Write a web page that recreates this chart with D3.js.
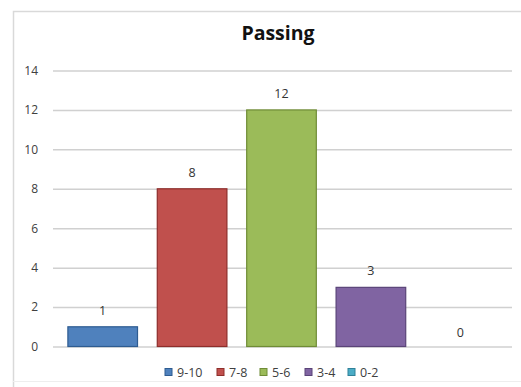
<!DOCTYPE html>
<html><head><meta charset="utf-8">
<script src="https://cdn.jsdelivr.net/npm/d3@7"></script>
<style>body{margin:0;background:#fff;}svg{display:block;font-family:"Open Sans",Lato,sans-serif;}</style>
</head><body>
<svg id="c" width="521" height="387"></svg>
<script>
const categories = ["9-10","7-8","5-6","3-4","0-2"];
const values = [1,8,12,3,0];
const colors = ["#4F81BD","#C0504D","#9BBB59","#8064A2","#4BACC6"];
const strokes = ["#2E5C91","#8E2E2B","#6F8C36","#5A4478","#2F8199"];
const yTicks = [0,2,4,6,8,10,12,14];
const title = "Passing";

const svg = d3.select("#c");
// chart border
svg.append("path").attr("d","M13.5,387 V11.5 H521").attr("fill","none").attr("stroke","#d9d9d9").attr("stroke-width",1.5);
svg.append("line").attr("x1",13).attr("x2",521).attr("y1",381.5).attr("y2",381.5).attr("stroke","#eeeeee");

const x = d3.scaleBand().domain(categories).range([58,505]).paddingInner(0.21).paddingOuter(0.105);
const y = d3.scaleLinear().domain([0,14]).range([346.5,70.5]);

const yAxis = d3.axisLeft(y).tickValues(yTicks).tickSize(-(512-53)).tickPadding(15);
const gy = svg.append("g").attr("transform","translate(53,0)").call(yAxis);
gy.select(".domain").remove();
gy.selectAll(".tick line").attr("stroke","#d0d0d0").attr("stroke-width",1.5);
gy.selectAll(".tick text").attr("fill","#404040").attr("font-size","12px").attr("font-family","'Open Sans',Lato,sans-serif");

svg.append("g").selectAll("rect").data(values).join("rect")
  .attr("x",(d,i)=>x(categories[i])+0.5)
  .attr("y",d=>y(d))
  .attr("width",x.bandwidth()-1)
  .attr("height",d=>y(0)-y(d))
  .attr("fill",(d,i)=>colors[i])
  .attr("stroke",(d,i)=>d>0?strokes[i]:"none")
  .attr("stroke-width",1.2);

svg.append("g").selectAll("text").data(values).join("text")
  .attr("x",(d,i)=>x(categories[i])+x.bandwidth()/2)
  .attr("y",d=>y(d)-(d>0?12:10))
  .attr("text-anchor","middle")
  .attr("fill","#333").attr("font-size","12.5px")
  .text(d=>d);

svg.append("text").attr("x",278).attr("y",40).attr("text-anchor","middle")
  .attr("font-weight","bold").attr("font-size","19.5px").attr("fill","#111").text(title);

// legend
const legendX = [165,217,260,305,348];
const lg = svg.append("g").selectAll("g").data(categories).join("g")
  .attr("transform",(d,i)=>`translate(${legendX[i]},368.5)`);
lg.append("rect").attr("width",7).attr("height",7)
  .attr("fill",(d,i)=>colors[i]).attr("stroke",(d,i)=>strokes[i]).attr("stroke-width",1);
lg.append("text").attr("x",12).attr("y",8.5).attr("font-size","12.5px").attr("fill","#404040").text(d=>d);
</script>
</body></html>
